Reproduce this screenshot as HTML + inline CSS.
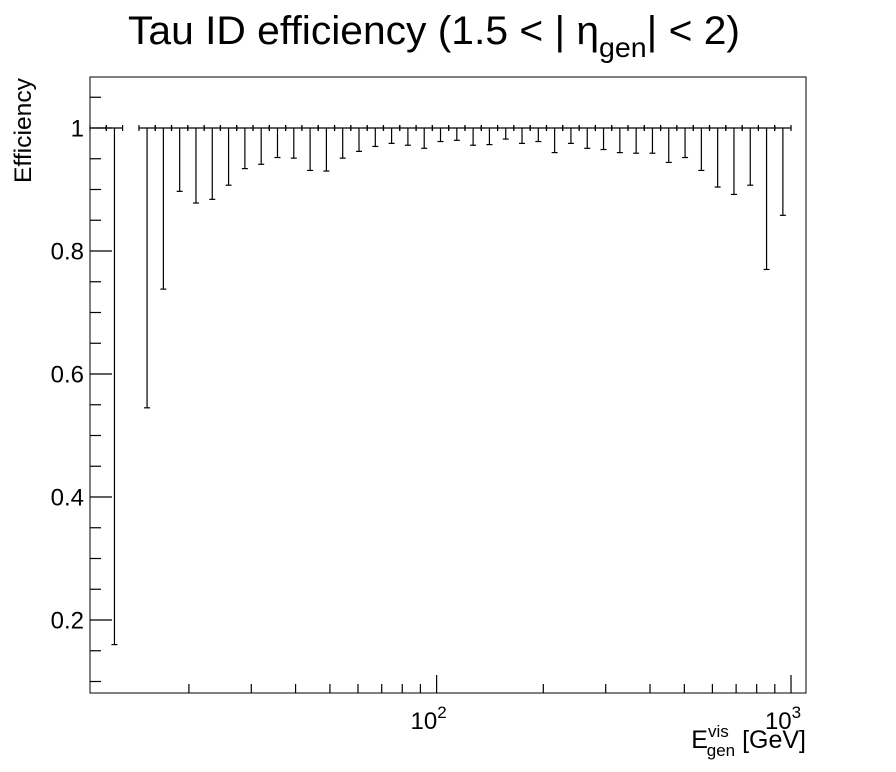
<!DOCTYPE html>
<html><head><meta charset="utf-8"><style>
body{margin:0;background:#fff}
svg{display:block;font-family:"Liberation Sans",sans-serif}
</style></head><body>
<svg id="c" width="896" height="772" viewBox="0 0 896 772">
<rect x="0" y="0" width="896" height="772" fill="#fff"/>
<text x="128" y="44" font-size="40" textLength="612" lengthAdjust="spacingAndGlyphs">Tau ID efficiency (1.5 &lt; | η<tspan font-size="28" dy="13">gen</tspan><tspan dy="-13">| &lt; 2)</tspan></text>
<text transform="translate(31,78) rotate(-90)" text-anchor="end" font-size="24" textLength="105" lengthAdjust="spacingAndGlyphs">Efficiency</text>
<text x="806" y="748" text-anchor="end" font-size="25">E<tspan font-size="17" dy="-11">vis</tspan><tspan font-size="17" dx="-22" dy="19">gen</tspan><tspan dy="-8"> [GeV]</tspan></text>
<g id="axes"></g>
<g id="marks"></g>
<rect x="90" y="77" width="716" height="616" fill="none" stroke="#000" stroke-width="1"/>
</svg>
<script>
const lower = [1.0,0.16,null,0.545,0.738,0.897,0.878,0.884,0.907,0.934,0.941,0.952,0.951,0.931,0.930,0.951,0.962,0.970,0.975,0.972,0.967,0.978,0.980,0.972,0.973,0.982,0.975,0.978,0.960,0.975,0.967,0.965,0.960,0.959,0.959,0.944,0.952,0.931,0.904,0.892,0.907,0.770,0.858];
const values = [1,1,null,1,1,1,1,1,1,1,1,1,1,1,1,1,1,1,1,1,1,1,1,1,1,1,1,1,1,1,1,1,1,1,1,1,1,1,1,1,1,1,1];
const yTicks = [0.2,0.4,0.6,0.8,1];
const yTickLabels = ["0.2","0.4","0.6","0.8","1"];
const xMajor = [100,1000];
const xMajorLabels = ["10","10"];
const xMajorExp = ["2","3"];
const NS="http://www.w3.org/2000/svg";
const L=90,R=806,T=77,B=693;
const nb=lower.length, bw=16.33/355;
const lmin=3-nb*bw, lmax=3+15/355;
const yMin=1-(B-128)/615, yMax=1+(128-T)/615;
function X(v){return L+(Math.log10(v)-lmin)/(lmax-lmin)*(R-L);}
function Y(v){return B-(v-yMin)/(yMax-yMin)*(B-T);}
function ln(g,x1,y1,x2,y2,name){const e=document.createElementNS(NS,'line');
e.setAttribute('x1',x1);e.setAttribute('y1',y1);e.setAttribute('x2',x2);e.setAttribute('y2',y2);
e.setAttribute('stroke','#000');e.setAttribute('stroke-width','1.2');


g.appendChild(e);return e;}
function tx(g,x,y,s,anchor,size,name){const e=document.createElementNS(NS,'text');
e.setAttribute('x',x);e.setAttribute('y',y);e.setAttribute('text-anchor',anchor);e.setAttribute('font-size',size);e.textContent=s;


g.appendChild(e);return e;}
const ax=document.getElementById('axes'), mk=document.getElementById('marks');
for(let v=0.1;v<=yMax+1e-9;v+=0.05){const y=Y(v);if(y>B||y<T)continue;
 const maj=Math.abs(v*5-Math.round(v*5))<1e-6;ln(ax,L,y,L+(maj?22:11),y,'y-tick');}
yTicks.forEach((v,i)=>tx(ax,84,Y(v)+8.5,yTickLabels[i],'end',24,'y-tick-label'));
[20,30,40,50,60,70,80,90,200,300,400,500,600,700,800,900].forEach(v=>{const x=X(v);ln(ax,x,B,x,B-9,'x-minor-tick');});
xMajor.forEach((v,i)=>{const x=X(v);ln(ax,x,B,x,B-18,'x-major-tick');
 const t=tx(ax,x-8,729,xMajorLabels[i],'middle',24,'x-tick-label');
 const s=document.createElementNS(NS,'tspan');s.setAttribute('font-size','17');s.setAttribute('dy','-11');s.textContent=xMajorExp[i];t.appendChild(s);});
for(let i=0;i<nb;i++){if(values[i]==null)continue;
 const e0=Math.pow(10,lmin+i*bw), e1=Math.pow(10,lmin+(i+1)*bw), ec=Math.pow(10,lmin+(i+0.5)*bw);
 const x0=X(e0),x1=X(e1),xc=X(ec),y=Y(values[i]),yl=Y(lower[i]);
 ln(mk,x0,y,x1,y,'x-error-bar');
 ln(mk,x0,y-3,x0,y+3,'error-cap');ln(mk,x1,y-3,x1,y+3,'error-cap');
 if(lower[i]<values[i]){ln(mk,xc,y,xc,yl,'y-error-bar');ln(mk,xc-3,yl,xc+3,yl,'error-cap');}
}
</script>
</body></html>
